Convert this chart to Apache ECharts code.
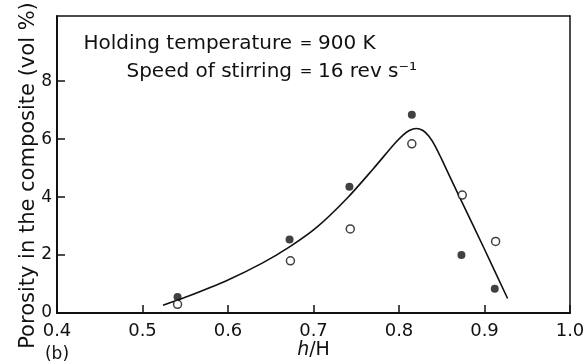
<!DOCTYPE html>
<html>
<head>
<meta charset="utf-8">
<script src="https://cdn.jsdelivr.net/npm/echarts@6/dist/echarts.min.js"></script>
<style>
  html, body { margin: 0; padding: 0; background: #fff; }
  #chart { width: 584px; height: 361px; }
</style>
</head>
<body>
<div id="chart"></div>
<script>
// Porosity (vol %) against relative depth h/H of the stirrer
const filledPoints = [[0.541, 0.55], [0.672, 2.54], [0.742, 4.36], [0.815, 6.84], [0.873, 2.00], [0.912, 0.84]];
const openPoints = [[0.541, 0.30], [0.673, 1.80], [0.743, 2.90], [0.815, 5.84], [0.874, 4.07], [0.913, 2.47]];
// Fitted trend curve
const trendCurve = [
  [0.524, 0.27], [0.55, 0.54], [0.60, 1.14], [0.64, 1.72], [0.672, 2.28], [0.704, 2.96],
  [0.739, 3.95], [0.77, 4.98], [0.795, 5.85], [0.805, 6.15], [0.812, 6.30], [0.82, 6.37],
  [0.828, 6.30], [0.835, 6.10], [0.842, 5.78], [0.85, 5.30], [0.87, 4.05], [0.90, 2.20], [0.927, 0.50]
];
const yTickValues = [0, 2, 4, 6, 8];
const xTickValues = [0.4, 0.5, 0.6, 0.7, 0.8, 0.9, 1.0];
const yMax = 10.25;

const FONT = 'DejaVu Sans';
const INK = '#111';

const chart = echarts.init(document.getElementById('chart'), null, { renderer: 'canvas' });

// bare axis used for the top and right sides of the frame
const frameSide = (extra) => Object.assign({
  type: 'value',
  axisLine: { show: true, onZero: false, lineStyle: { color: INK, width: 1.5 } },
  axisTick: { show: false },
  axisLabel: { show: false },
  splitLine: { show: false }
}, extra);

chart.setOption({
  animation: false,
  backgroundColor: '#fff',
  grid: {
    left: 57, right: 14, top: 16, bottom: 48,
    outerBoundsMode: 'none',
    show: false
  },
  xAxis: [
    {
      type: 'value',
      min: xTickValues[0], max: xTickValues[xTickValues.length - 1], interval: 0.1,
      axisLine: { show: true, onZero: false, lineStyle: { color: INK, width: 2 } },
      axisTick: { show: true, inside: true, length: 8, lineStyle: { color: INK, width: 1.5 } },
      splitLine: { show: false },
      axisLabel: {
        color: INK, fontFamily: FONT, fontSize: 18, margin: 9,
        formatter: v => v.toFixed(1)
      },
      name: '{i|h}/H',
      nameLocation: 'middle',
      nameGap: 28,
      nameMoveOverlap: false,
      nameTextStyle: {
        color: INK, fontFamily: FONT, fontSize: 19,
        rich: { i: { fontStyle: 'italic', fontFamily: FONT, fontSize: 19, color: INK } }
      }
    },
    frameSide({ position: 'top', min: xTickValues[0], max: xTickValues[xTickValues.length - 1] })
  ],
  yAxis: [
    {
      type: 'value',
      min: 0, max: yMax,
      axisLine: { show: true, onZero: false, lineStyle: { color: INK, width: 2 } },
      axisTick: { show: true, inside: true, length: 8, customValues: yTickValues, lineStyle: { color: INK, width: 1.5 } },
      splitLine: { show: false },
      axisLabel: { color: INK, fontFamily: FONT, fontSize: 17, margin: 5, customValues: yTickValues },
      name: 'Porosity in the composite (vol %)',
      nameLocation: 'middle',
      nameGap: 18,
      nameMoveOverlap: false,
      nameTextStyle: { color: INK, fontFamily: FONT, fontSize: 21, padding: [0, 22, 0, 0] }
    },
    frameSide({ position: 'right', min: 0, max: yMax })
  ],
  series: [
    {
      name: 'trend',
      type: 'line',
      data: trendCurve,
      smooth: 0.3,
      showSymbol: false,
      lineStyle: { color: INK, width: 1.6 },
      z: 2
    },
    {
      name: 'filled',
      type: 'scatter',
      data: filledPoints,
      symbol: 'circle',
      symbolSize: 8,
      itemStyle: { color: INK },
      z: 3
    },
    {
      name: 'open',
      type: 'scatter',
      data: openPoints,
      symbol: 'circle',
      symbolSize: 8,
      itemStyle: { color: '#fff', borderColor: INK, borderWidth: 1.5 },
      z: 3
    }
  ],
  graphic: [
    { type: 'text', x: 292, y: 44, style: { text: 'Holding temperature', fontFamily: FONT, fontSize: 20, fill: INK, align: 'right', verticalAlign: 'middle' } },
    { type: 'text', x: 306, y: 44, style: { text: '=', fontFamily: FONT, fontSize: 15, fill: INK, align: 'center', verticalAlign: 'middle' } },
    { type: 'text', x: 318, y: 44, style: { text: '900 K', fontFamily: FONT, fontSize: 20, fill: INK, align: 'left', verticalAlign: 'middle' } },
    { type: 'text', x: 292, y: 72, style: { text: 'Speed of stirring', fontFamily: FONT, fontSize: 20, fill: INK, align: 'right', verticalAlign: 'middle' } },
    { type: 'text', x: 306, y: 72, style: { text: '=', fontFamily: FONT, fontSize: 15, fill: INK, align: 'center', verticalAlign: 'middle' } },
    { type: 'text', x: 318, y: 72, style: { text: '16 rev s⁻¹', fontFamily: FONT, fontSize: 20, fill: INK, align: 'left', verticalAlign: 'middle' } },
    { type: 'text', x: 57, y: 355, style: { text: '(b)', fontFamily: FONT, fontSize: 17, fill: INK, align: 'center', verticalAlign: 'middle' } }
  ]
});
</script>
</body>
</html>
